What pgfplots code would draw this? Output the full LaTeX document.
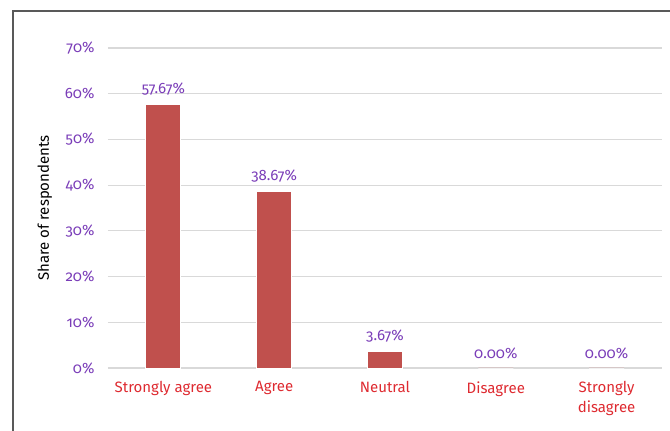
\documentclass[border=0pt]{standalone}
\usepackage{fontspec}
\setmainfont{Fira Sans}[Numbers=OldStyle]
\usepackage{pgfplots}
\pgfplotsset{compat=1.18}
\definecolor{barred}{HTML}{C0504D}
\definecolor{tickpurple}{HTML}{7A3DB8}
\definecolor{labred}{HTML}{DE2A30}
\definecolor{gridgray}{HTML}{D9D9D9}
\begin{document}
\begin{tikzpicture}[x=1pt,y=1pt]
\useasboundingbox (0,0) rectangle (670,431);
\draw[line width=1.6pt, black!65] (13,0) -- (13,420) -- (670,420);
\begin{axis}[
    at={(108pt,63pt)}, anchor=south west,
    scale only axis,
    width=554pt, height=320pt,
    xmin=-0.5, xmax=4.5,
    ymin=0, ymax=70,
    axis line style={draw=none},
    major tick length=0pt,
    ymajorgrids,
    grid style={gridgray, line width=1.2pt},
    ytick={0,10,...,70},
    yticklabels={0\%,10\%,20\%,30\%,40\%,50\%,60\%,70\%},
    xtick={0,1,2,3,4},
    xticklabels={Strongly agree, Agree, Neutral, Disagree, {Strongly\\disagree}},
    tick label style={font=\fontsize{15}{20}\selectfont},
    yticklabel style={tickpurple, xshift=-10pt},
    xticklabel style={labred, align=center, yshift=-10pt},
    ylabel={Share of respondents},
    ylabel style={font=\fontsize{15}{16}\selectfont, at={(axis description cs:-0.114,0.5)}, anchor=center},
    ybar, bar width=35pt,
    nodes near coords={\pgfmathprintnumber[fixed,fixed zerofill,precision=2,assume math mode=true]{\pgfplotspointmeta}\%},
    nodes near coords style={tickpurple, font=\fontsize{15}{16}\selectfont, yshift=5pt},
    clip=false,
]
\addplot[fill=barred, draw=white, line width=0.8pt] coordinates {
    (0,57.67) (1,38.67) (2,3.67) (3,0) (4,0)
};
\end{axis}
\end{tikzpicture}
\end{document}
